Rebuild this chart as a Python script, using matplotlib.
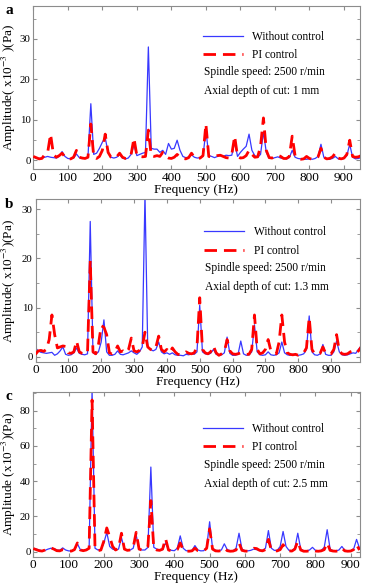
import numpy as np
import matplotlib
matplotlib.use("Agg")
import matplotlib.pyplot as plt
from matplotlib.ticker import MultipleLocator

plt.rcParams['font.family'] = ['Liberation Serif', 'DejaVu Serif']
plt.rcParams['mathtext.fontset'] = 'stix'

# FFT bin width (Hz): spindle frequency 2500/60 split in 5 bins
bin_width = 2500 / 60 / 5

a_without = [0.9, 0.6, 0.5, 0.6, 0.8, 1.0, 0.8, 0.7, 0.6, 1.0,
             2.2, 1.0, 0.5, 0.4, 0.6, 1.6, 0.7, 0.5, 0.6, 0.8,
             14.0, 1.5, 1.8, 3.0, 4.5, 5.6, 2.0, 0.8, 0.6, 0.8,
             1.5, 0.6, 0.4, 0.6, 1.5, 3.8, 1.2, 1.5, 1.8, 2.0,
             28.0, 3.0, 2.8, 2.8, 2.0, 2.5, 1.5, 4.2, 2.8, 3.0,
             5.0, 2.5, 1.0, 0.7, 0.8, 1.4, 0.8, 0.6, 0.7, 1.0,
             7.5, 1.2, 1.0, 0.7, 1.0, 1.2, 1.0, 1.3, 1.2, 1.3,
             4.5, 1.0, 2.0, 2.8, 3.5, 6.5, 2.5, 1.2, 0.8, 1.5,
             7.0, 2.0, 0.6, 0.5, 0.7, 0.9, 0.6, 0.5, 0.4, 0.7,
             2.5, 0.8, 0.5, 0.4, 0.3, 0.3, 0.4, 0.3, 0.5, 1.0,
             4.0, 0.8, 0.4, 0.3, 0.5, 1.0, 0.4, 0.3, 0.5, 1.2,
             4.0, 0.8, 0.4, 0.5, 0.7]
a_pi = [1.0, 0.7, 0.4, 0.5, 1.5, 2.0, 6.5, 1.5, 0.8, 1.2,
        1.8, 0.9, 0.4, 0.4, 0.8, 2.5, 0.8, 0.6, 0.5, 0.8,
        9.0, 1.0, 0.5, 1.0, 2.5, 6.5, 2.0, 0.8, 0.6, 0.9,
        1.8, 0.8, 0.5, 0.6, 1.5, 5.5, 1.2, 1.0, 0.9, 1.0,
        7.5, 1.2, 1.0, 1.2, 1.0, 2.0, 1.0, 0.6, 0.5, 0.8,
        1.5, 0.8, 0.5, 0.4, 0.7, 1.8, 0.8, 0.5, 0.6, 1.2,
        9.0, 1.0, 0.8, 0.8, 1.2, 1.3, 1.0, 0.7, 0.6, 1.5,
        6.0, 1.0, 0.6, 0.7, 1.2, 2.5, 1.5, 0.8, 0.9, 3.5,
        10.5, 2.5, 0.7, 0.6, 1.0, 1.3, 1.0, 0.5, 0.5, 1.0,
        6.0, 1.2, 0.4, 0.3, 0.4, 1.0, 0.5, 0.3, 0.4, 0.9,
        3.0, 0.8, 0.4, 0.5, 0.9, 1.8, 0.6, 0.4, 0.6, 1.5,
        5.0, 1.0, 0.8, 0.9, 1.2]

b_without = [1.8, 1.2, 0.9, 0.8, 0.7, 0.8, 0.9, 0.3, 0.6, 1.2,
             2.0, 0.5, 0.3, 0.4, 0.8, 1.8, 0.7, 0.5, 0.4, 0.6,
             27.5, 0.8, 0.5, 1.0, 3.0, 7.5, 1.0, 0.3, 0.3, 0.5,
             1.2, 0.5, 0.4, 0.6, 0.8, 1.2, 0.8, 0.5, 1.0, 2.0,
             33.0, 2.0, 1.5, 1.2, 1.5, 3.0, 1.0, 0.6, 0.8, 0.5,
             0.8, 0.4, 0.3, 0.3, 0.2, 0.5, 0.4, 0.6, 0.5, 1.0,
             10.5, 1.0, 0.6, 0.5, 0.7, 1.5, 0.5, 0.3, 0.4, 0.8,
             4.0, 0.7, 0.3, 0.3, 0.5, 3.2, 0.6, 0.3, 0.4, 1.0,
             6.5, 1.0, 0.4, 0.3, 0.4, 1.0, 0.4, 0.3, 0.4, 0.8,
             3.0, 0.8, 0.4, 0.3, 0.5, 0.4, 0.3, 0.4, 0.6, 1.5,
             8.3, 1.0, 0.4, 0.3, 0.6, 2.5, 0.5, 0.3, 0.3, 1.0,
             3.2, 1.0, 0.4, 0.3, 0.4, 0.6, 0.8, 0.7, 1.5, 2.2]
b_pi = [0.5, 1.2, 1.3, 1.1, 1.5, 3.5, 8.5, 4.5, 1.8, 2.0,
        2.2, 2.1, 0.8, 0.7, 1.0, 3.2, 1.0, 0.7, 0.6, 0.8,
        19.5, 1.0, 0.6, 2.5, 6.3, 6.0, 4.5, 0.8, 0.6, 1.0,
        2.2, 1.0, 1.2, 0.8, 1.5, 3.8, 1.2, 1.0, 1.3, 2.0,
        5.0, 2.0, 1.5, 1.3, 2.0, 4.2, 1.5, 1.0, 1.5, 0.8,
        1.8, 1.0, 0.5, 0.4, 0.6, 1.0, 0.7, 0.6, 0.8, 2.0,
        12.0, 1.5, 0.8, 0.6, 1.0, 2.2, 0.8, 0.3, 0.6, 1.0,
        3.5, 1.2, 0.6, 0.5, 0.6, 0.8, 0.6, 0.5, 0.5, 1.5,
        8.5, 1.5, 0.6, 0.8, 1.5, 3.5, 1.2, 0.8, 0.6, 3.0,
        8.5, 3.0, 0.8, 0.5, 0.4, 0.5, 0.3, 0.5, 0.8, 1.8,
        8.0, 1.5, 0.6, 0.5, 0.7, 2.0, 0.7, 0.6, 0.6, 1.5,
        4.5, 1.2, 0.6, 0.5, 0.6, 1.0, 1.2, 0.8, 1.2, 2.0]

c_without = [2.0, 1.5, 1.0, 0.5, 0.8, 1.5, 2.0, 1.8, 1.0, 0.8,
             2.2, 1.0, 0.5, 0.4, 1.0, 4.5, 1.2, 0.8, 1.0, 2.0,
             92.0, 2.0, 1.0, 1.2, 5.0, 11.0, 3.0, 1.5, 1.0, 1.5,
             8.0, 1.5, 1.0, 1.0, 2.0, 9.5, 1.5, 1.0, 1.0, 2.5,
             48.0, 2.5, 1.5, 1.0, 1.2, 5.0, 1.5, 0.8, 0.6, 2.0,
             9.0, 2.0, 0.6, 0.5, 0.8, 3.5, 1.0, 0.5, 0.6, 2.5,
             17.0, 2.0, 0.8, 0.6, 1.0, 4.5, 1.2, 0.6, 0.6, 2.0,
             10.5, 1.5, 0.6, 0.5, 0.8, 1.5, 1.2, 0.8, 0.8, 2.0,
             12.0, 2.0, 0.8, 0.8, 3.0, 11.5, 3.0, 0.8, 0.6, 2.0,
             10.5, 1.5, 0.6, 0.5, 1.0, 2.5, 0.8, 0.5, 0.8, 2.5,
             12.5, 1.5, 0.6, 0.5, 1.0, 3.0, 0.8, 0.5, 0.6, 1.5,
             7.0, 2.0]
c_pi = [1.8, 1.2, 0.6, 0.4, 1.0, 2.0, 2.2, 1.5, 0.6, 0.5,
        1.2, 0.6, 0.4, 0.4, 1.2, 5.0, 1.0, 0.6, 1.0, 2.0,
        86.0, 1.5, 0.6, 1.0, 6.0, 13.5, 8.5, 3.0, 1.0, 2.0,
        10.5, 1.5, 0.8, 1.0, 2.5, 11.0, 1.5, 1.0, 1.2, 3.0,
        29.0, 2.0, 1.0, 0.8, 1.5, 7.5, 1.0, 0.5, 0.5, 1.2,
        5.0, 1.0, 0.4, 0.3, 0.5, 2.0, 0.6, 0.3, 0.5, 2.0,
        13.0, 1.5, 0.5, 0.4, 0.6, 2.0, 0.6, 0.3, 0.4, 1.0,
        5.0, 0.8, 0.4, 0.3, 1.0, 2.0, 1.8, 0.8, 0.5, 1.2,
        7.0, 1.0, 0.4, 0.5, 1.2, 4.0, 1.5, 0.5, 0.4, 1.5,
        6.0, 1.0, 0.3, 0.3, 0.5, 1.0, 0.4, 0.3, 0.5, 1.2,
        5.0, 0.8, 0.4, 0.3, 0.6, 2.0, 0.5, 0.3, 0.4, 1.2,
        4.0, 1.0]

panel_letters = ['a', 'b', 'c']
depths = ['1 mm', '1.3 mm', '2.5 mm']
series_without = [a_without, b_without, c_without]
series_pi = [a_pi, b_pi, c_pi]
xlims = [(0, 945), (0, 988), (0, 925)]
ylims = [(-2.1, 38.1), (-1.0, 32.0), (-2.8, 90.7)]
y_major = [10, 10, 20]
y_minor = [5, 5, 10]
ylabels = [r'Amplitude( x10$^{-3}$ )(Pa)', r'Amplitude( x10$^{-3}$)(Pa)',
           r'Amplitude (x10$^{-3}$)(Pa)']

W, H = 370, 585
# axes boxes in pixels: left, top, right, bottom
boxes = [(33.3, 6.0, 359.5, 169.0), (35.5, 199.3, 360.0, 361.7), (33.3, 391.7, 359.5, 556.7)]
legend_top = [0.875, 0.862, 0.838]
text_y = [(0.595, 0.48), (0.575, 0.46), (0.556, 0.44)]
ylabel_right_px = 18.0

fig = plt.figure(figsize=(W / 100, H / 100), dpi=100)
spine_col = '#8c8c8c'
txt_fs = 8.3
for i in range(3):
    l, t, r, b = boxes[i]
    ax = fig.add_axes([l / W, 1 - b / H, (r - l) / W, (b - t) / H])
    freq = np.arange(len(series_without[i])) * bin_width
    ax.plot(freq, series_without[i], color='#3838ff', lw=0.9, label='Without control', zorder=2)
    ax.plot(freq, series_pi[i], color='#ff0000', lw=2.0, ls=(0, (4.5, 2.5)), label='PI control', zorder=3)
    ax.set_xlim(*xlims[i])
    ax.set_ylim(*ylims[i])
    ax.xaxis.set_major_locator(MultipleLocator(100))
    ax.yaxis.set_major_locator(MultipleLocator(y_major[i]))
    ax.yaxis.set_minor_locator(MultipleLocator(y_minor[i]))
    ax.tick_params(which='both', direction='in', top=True, right=True, color=spine_col, pad=2)
    ax.tick_params(axis='x', labelsize=9.5)
    ax.tick_params(axis='y', labelsize=7.8)
    ax.tick_params(which='major', length=3)
    ax.tick_params(which='minor', length=2)
    for s in ax.spines.values():
        s.set_color(spine_col)
        s.set_linewidth(0.8)
    ax.set_xlabel('Frequency (Hz)', fontsize=9.5, labelpad=0)
    ax.set_ylabel(ylabels[i], fontsize=9.5)
    ax.yaxis.set_label_coords((ylabel_right_px - l) / (r - l), 0.5)
    ax.legend(loc='upper left', bbox_to_anchor=(0.505, legend_top[i]), frameon=False,
              fontsize=txt_fs, handlelength=3.5, handletextpad=0.8, labelspacing=0.55,
              borderaxespad=0)
    ax.text(0.522, text_y[i][0], 'Spindle speed: 2500 r/min', transform=ax.transAxes,
            fontsize=txt_fs, va='center', ha='left')
    ax.text(0.522, text_y[i][1], 'Axial depth of cut: ' + depths[i], transform=ax.transAxes,
            fontsize=txt_fs, va='center', ha='left')
    fig.text(5 / W, 1 - (t + 5) / H, panel_letters[i], fontsize=11, fontweight='bold',
             va='center', ha='left')

fig.savefig('out.png', dpi=100)
